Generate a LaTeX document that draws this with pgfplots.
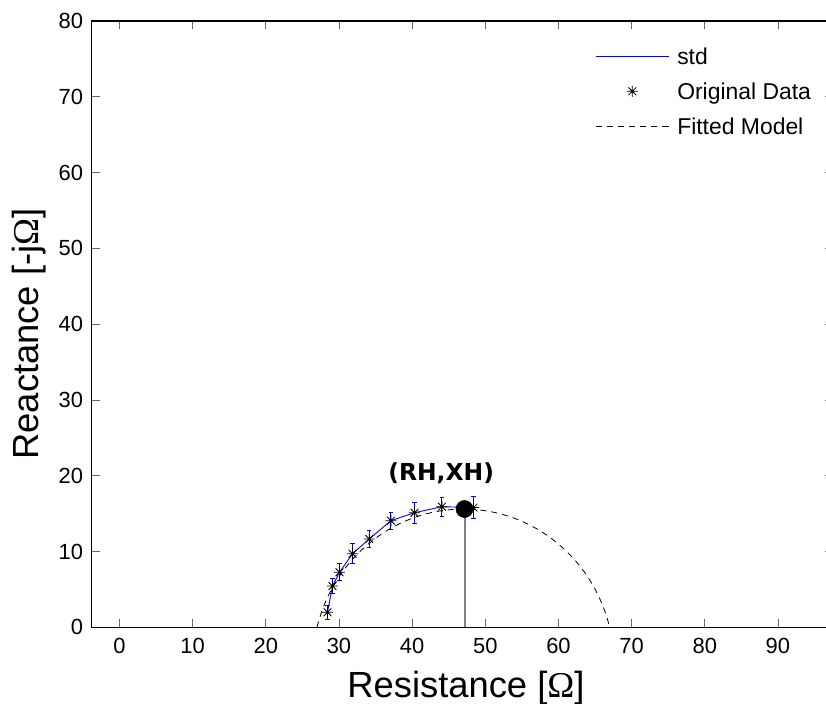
\documentclass[border=0pt]{standalone}
\usepackage{pgfplots}
\usepackage{pgfplotstable}
\pgfplotsset{compat=1.18}
\usepackage{fontspec}
\setmainfont{Liberation Sans}
\newfontfamily\annfont{DejaVu Sans}
\newfontfamily\omfont{Liberation Serif}

\pgfdeclareplotmark{mstar}{%
  \pgfpathmoveto{\pgfpoint{-\pgfplotmarksize}{0pt}}\pgfpathlineto{\pgfpoint{\pgfplotmarksize}{0pt}}%
  \pgfpathmoveto{\pgfpoint{0pt}{-\pgfplotmarksize}}\pgfpathlineto{\pgfpoint{0pt}{\pgfplotmarksize}}%
  \pgfpathmoveto{\pgfpoint{-0.7071\pgfplotmarksize}{-0.7071\pgfplotmarksize}}\pgfpathlineto{\pgfpoint{0.7071\pgfplotmarksize}{0.7071\pgfplotmarksize}}%
  \pgfpathmoveto{\pgfpoint{-0.7071\pgfplotmarksize}{0.7071\pgfplotmarksize}}\pgfpathlineto{\pgfpoint{0.7071\pgfplotmarksize}{-0.7071\pgfplotmarksize}}%
  \pgfusepathqstroke}

\pgfplotstableread{
x y e
28.43 1.98 0.95
29.11 5.45 0.93
30.07 7.26 1.14
31.85 9.71 1.32
34.13 11.65 1.12
37.10 14.07 1.10
40.32 15.12 1.40
44.07 15.91 1.23
48.39 15.80 1.45
}\datatable

\begin{document}
\begin{tikzpicture}
\useasboundingbox (-91.7bp,-76.7bp) rectangle (734.3bp,627.3bp);
\begin{axis}[
  scale only axis, width=741.1bp, height=606.3bp,
  xmin=-3.8, xmax=97.5, ymin=0, ymax=80,
  xtick={0,10,...,90}, ytick={0,10,...,80},
  /pgf/number format/assume math mode=true,
  ticklabel style={font=\fontsize{22}{26}\selectfont},
  xticklabel style={anchor=north, inner sep=0pt, yshift=-11bp},
  yticklabel style={anchor=east, inner sep=0pt, xshift=-8.4bp},
  major tick length=8bp,
  tick style={line width=0.8bp, color=black!60},
  axis line style={line width=1.1bp, black},
  xlabel={Resistance [{\omfont Ω}]},
  ylabel={Reactance [-j{\omfont Ω}]},
  every axis x label/.style={at={(axis description cs:0.505,-0.11545)}, anchor=base, inner sep=0pt, font=\fontsize{36.5}{42}\selectfont},
  every axis y label/.style={at={(axis description cs:-0.07206,0.4838)}, rotate=90, anchor=base, inner sep=0pt, font=\fontsize{36.5}{42}\selectfont},
  legend cell align=left,
  legend style={draw=none, fill=none, at={(axis cs:65.02,76.51)}, anchor=north west,
    inner sep=0pt, row sep=18.15bp, column sep=8bp,
    font=\fontsize{23}{27}\selectfont,
    nodes={inner sep=0pt, text height=17bp, text depth=0bp}},
  myleg/.style={legend image code/.code={\draw[mark repeat=2,mark phase=2,##1] plot coordinates {(0bp,0bp) (36.5bp,0bp) (73bp,0bp)};}},
]
\addplot[blue, line width=0.9bp, mark=none, myleg,
  error bars/.cd, y dir=both, y explicit,
  error bar style={blue, line width=0.9bp},
  error mark options={blue, rotate=90, mark size=2.2bp, line width=0.9bp}]
  table[x=x, y=y, y error=e] {\datatable};
\addlegendentry{std}
\addplot[only marks, mark=mstar, mark size=5.5bp, mark options={black, line width=0.8bp}, myleg]
  table[x=x, y=y] {\datatable};
\addlegendentry{Original Data}
\addplot[black, dash pattern=on 6bp off 5bp, line width=0.8bp, smooth, myleg] coordinates {
(27.00,0) (27.08,0.32) (27.62,2.03) (28.31,3.69) (29.14,5.29) (30.11,6.81) (31.20,8.23) (32.42,9.56)
(33.75,10.77) (35.17,11.87) (36.69,12.84) (38.29,13.67) (39.95,14.36) (41.66,14.90) (43.42,15.29)
(45.20,15.52) (47.00,15.60) (48.80,15.52) (50.58,15.29) (52.34,14.90) (54.05,14.36) (55.71,13.67)
(57.31,12.84) (58.83,11.87) (60.25,10.77) (61.58,9.56) (62.80,8.23) (63.89,6.81) (64.86,5.29)
(65.69,3.69) (66.38,2.03) (66.92,0.32) (67.00,0)
};
\addlegendentry{Fitted Model}
\addplot[color=black!50, line width=2bp, forget plot] coordinates {(47.16,0) (47.16,15.61)};
\addplot[only marks, mark=*, mark size=8.6bp, mark options={black, fill=black}, forget plot] coordinates {(47.16,15.61)};
\node[font=\annfont\bfseries\fontsize{23.5}{28}\selectfont, anchor=base, inner sep=0pt] at (axis cs:43.97,19.31) {(RH,XH)};
\end{axis}
\end{tikzpicture}
\end{document}
